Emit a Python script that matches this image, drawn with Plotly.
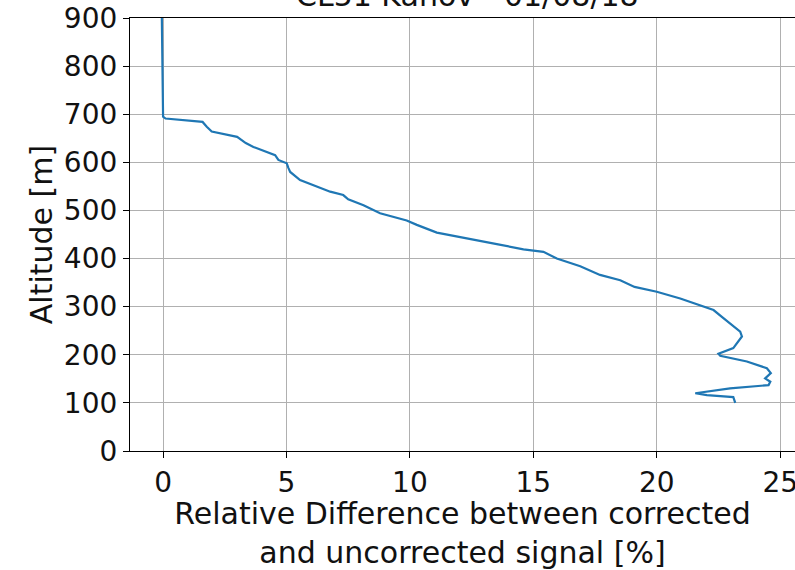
import plotly.graph_objects as go

# Altitude [m] and relative difference [%]
altitude = [900, 800, 730, 695, 691, 684, 674, 664, 653, 640, 632, 622, 615, 605,
            598, 588, 580, 563, 553, 539, 532, 523, 511, 494, 479, 470, 454, 444,
            430, 419, 414, 400, 384, 366, 355, 341, 331, 317, 293, 276, 248, 238,
            214, 202, 198, 186, 172, 162, 151, 144, 137, 130, 120, 116, 112, 100]
rel_diff = [-0.05, -0.03, -0.01, 0.0, 0.1, 1.6, 1.77, 1.97, 3.0, 3.35, 3.66, 4.2, 4.54, 4.67,
            5.01, 5.08, 5.15, 5.55, 6.09, 6.77, 7.3, 7.5, 8.12, 8.79, 9.87, 10.28, 11.09, 12.17,
            13.52, 14.6, 15.41, 15.95, 16.9, 17.7, 18.52, 19.1, 20.0, 20.95, 22.3, 22.7, 23.38, 23.45,
            23.1, 22.5, 22.57, 23.65, 24.46, 24.62, 24.39, 24.6, 24.53, 22.97, 21.56, 22.03, 23.1, 23.18]

x_ticks = [0, 5, 10, 15, 20, 25]
y_ticks = [0, 100, 200, 300, 400, 500, 600, 700, 800, 900]

title_text = "CL51 Kanov - 01/08/18"
x_title = "Relative Difference between corrected<br>and uncorrected signal [%]"
y_title = "Altitude [m]"

FONT = "DejaVu Sans"
FS = 28
FT = 30
COL = "#111111"

fig = go.Figure()
fig.add_trace(go.Scatter(x=rel_diff, y=altitude, mode="lines",
                         line=dict(color="#1f77b4", width=2.2), showlegend=False))

axis_common = dict(showline=True, linecolor="black", linewidth=1.2, mirror=True,
                   ticks="outside", ticklen=6, tickwidth=1.2, tickcolor="black",
                   showgrid=True, gridcolor="#b0b0b0", gridwidth=1, zeroline=False,
                   automargin=False, ticklabeloverflow="allow",
                   tickfont=dict(family=FONT, size=FS, color=COL))

fig.update_layout(
    width=795, height=570,
    margin=dict(l=130, r=0, t=18, b=119),
    plot_bgcolor="white", paper_bgcolor="white",
    font=dict(family=FONT, size=FS, color=COL),
    xaxis=dict(range=[-1.34, 25.6], tickvals=x_ticks,
               title=dict(text=x_title, font=dict(family=FONT, size=FT, color=COL), standoff=4),
               **axis_common),
    yaxis=dict(range=[0, 900], tickvals=y_ticks,
               title=dict(text=y_title, font=dict(family=FONT, size=FT, color=COL), standoff=2),
               **axis_common),
    annotations=[dict(text=title_text, xref="paper", yref="paper", x=0.507, y=1,
                      xanchor="center", yanchor="bottom", yshift=3, showarrow=False,
                      font=dict(family=FONT, size=FT, color=COL))],
)

fig.write_html("out.html")
